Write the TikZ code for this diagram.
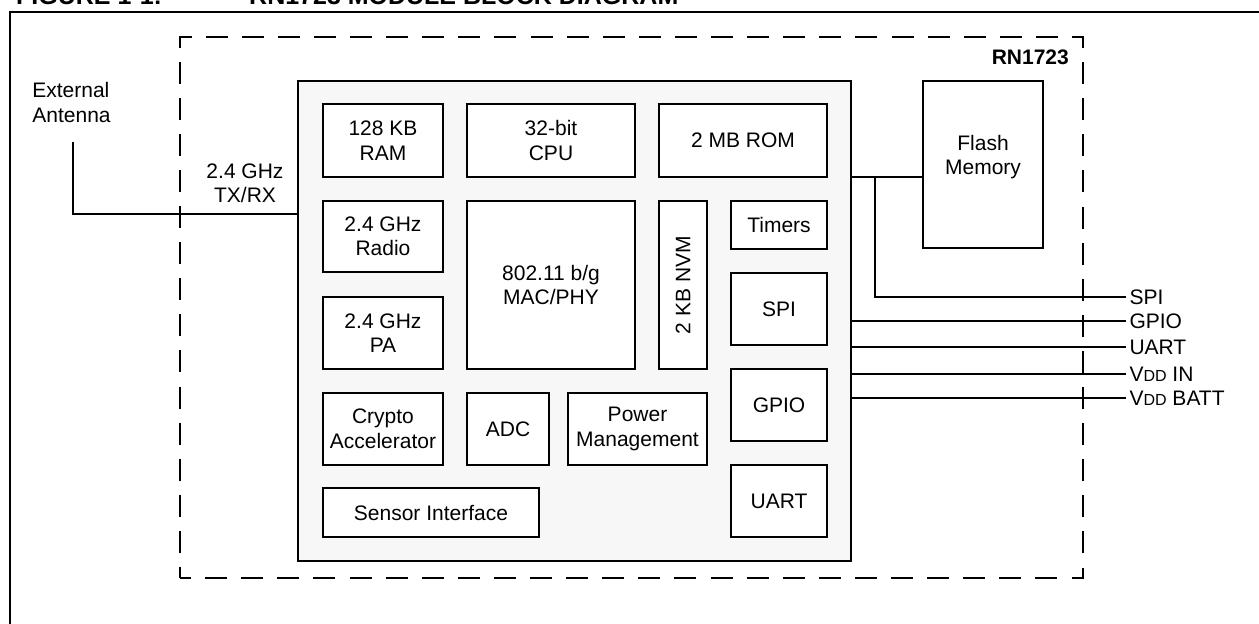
\documentclass[tikz,border=0pt]{standalone}
\usepackage{fontspec}
\setmainfont{Liberation Sans}
\usepackage{xcolor}
\usepackage{tikz}
\usetikzlibrary{calc}
\definecolor{diefill}{RGB}{247,247,247}
\newcommand{\Vdd}{V{\fontsize{16}{16}\selectfont DD}}

\begin{document}
\begin{tikzpicture}[x=1pt, y=-1pt, every node/.style={font=\fontsize{21}{24.5}\selectfont},
    blk/.style={draw, line width=2pt, fill=white, align=center, inner sep=0pt},
    wire/.style={line width=2pt}]
    \useasboundingbox (0,0) rectangle (1259,624);
    \clip (0,0) rectangle (1259,624);
    % caption strip and outer frame
    \node[font=\bfseries\fontsize{25}{30}\selectfont, anchor=base west, inner sep=0pt] (fignum) at (16,4) {FIGURE 1-1:};
    \node[font=\bfseries\fontsize{25}{30}\selectfont, anchor=base west, inner sep=0pt] (figtitle) at (249,4) {RN1723 MODULE BLOCK DIAGRAM};
    \draw[line width=2.5pt] (1270,12) -- (10,12) -- (10,640);
    % module outline
    \node[draw, line width=2.5pt, dash pattern=on 22pt off 14.1pt, dash phase=11pt,
          minimum width=903, minimum height=541, inner sep=0pt] (module) at (631.5,307.5) {};
    \node[font=\bfseries\fontsize{21}{24.5}\selectfont, anchor=east, inner sep=0pt] (modname) at (1069,57) {RN1723};
    % die
    \node[draw, line width=2pt, fill=diefill, minimum width=553, minimum height=480, inner sep=0pt] (chip) at (574.5,321) {};
    \node[blk, minimum width=120, minimum height=73] (ram) at (383,140.5) {128 KB\\RAM};
    \node[blk, minimum width=168, minimum height=73] (cpu) at (551,140.5) {32-bit\\CPU};
    \node[blk, minimum width=168, minimum height=73] (rom) at (743,140.5) {2 MB ROM};
    \node[blk, minimum width=120, minimum height=71] (radio) at (383,236.5) {2.4 GHz\\Radio};
    \node[blk, minimum width=120, minimum height=72] (pa) at (383,333) {2.4 GHz\\PA};
    \node[blk, minimum width=168, minimum height=168] (mac) at (551,285) {802.11 b/g\\MAC/PHY};
    \node[blk, rotate=90, minimum width=168, minimum height=48] (nvm) at (683,285) {2 KB NVM};
    \node[blk, minimum width=96, minimum height=48] (tmr) at (779,225) {Timers};
    \node[blk, minimum width=96, minimum height=72] (spi) at (779,309) {SPI};
    \node[blk, minimum width=96, minimum height=72] (gpio) at (779,405) {GPIO};
    \node[blk, minimum width=96, minimum height=72] (uart) at (779,501) {UART};
    \node[blk, minimum width=120, minimum height=72] (crypto) at (383,429) {Crypto\\Accelerator};
    \node[blk, minimum width=82, minimum height=72] (adc) at (508,429) {ADC};
    \node[blk, minimum width=139, minimum height=72] (pwr) at (637.5,429) {Power\\Management};
    \node[blk, minimum width=216, minimum height=49] (sens) at (431,512.5) {Sensor Interface};
    % flash outside the die
    \node[blk, minimum width=120, minimum height=167] (flash) at (983,164.5) {};
    \node[align=center] (flashtxt) at (983,157) {Flash\\Memory};
    % antenna side
    \node[align=left] (extant) at (71.5,102.5) {External\\Antenna};
    \node[align=center] (band) at (245,183.5) {2.4 GHz\\TX/RX};
    \coordinate (ant) at (73,142);
    \coordinate (rf) at (0,214);
    \draw[wire] (ant) |- (chip.west |- rf);
    % pins
    \coordinate (tap) at (875,177);
    \draw[wire] (chip.east |- tap) -- (flash.west |- tap);
    \node[anchor=west] (lspi) at (1126,297) {SPI};
    \draw[wire] (tap) |- (lspi.west);
    \foreach \pin/\py/\ptxt in {lgpio/321/GPIO, luart/347/UART, lvin/374/\Vdd{} IN, lvbat/398/\Vdd{} BATT}{
      \node[anchor=west] (\pin) at (1126,\py) {\ptxt};
      \draw[wire] (chip.east |- \pin.west) -- (\pin.west);
    }
\end{tikzpicture}
\end{document}
